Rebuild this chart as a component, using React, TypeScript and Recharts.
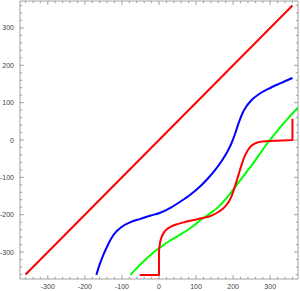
import { LineChart, Line, XAxis, YAxis, ReferenceArea } from 'recharts';

// tick values
const majorTicks = [-300, -200, -100, 0, 100, 200, 300];
const allTicks = Array.from({ length: 37 }, (_, i) => -360 + i * 20);

// series
const diagonal = [
  { x: -360, y: -360 },
  { x: 360, y: 360 },
];

const blueCurve = [
  { x: -169, y: -361 }, { x: -160, y: -333 }, { x: -149, y: -305 }, { x: -135, y: -275 },
  { x: -122, y: -253 }, { x: -100, y: -232 }, { x: -77, y: -220 }, { x: -50, y: -211 },
  { x: -22, y: -202 }, { x: 0, y: -196 }, { x: 32, y: -181 }, { x: 59, y: -164 },
  { x: 86, y: -145 }, { x: 110, y: -125 }, { x: 130, y: -105 }, { x: 150, y: -82 },
  { x: 170, y: -55 }, { x: 185, y: -30 }, { x: 195, y: -10 }, { x: 205, y: 16 },
  { x: 215, y: 46 }, { x: 225, y: 71 }, { x: 235, y: 89 }, { x: 250, y: 107 },
  { x: 270, y: 123 }, { x: 295, y: 137 }, { x: 330, y: 153 }, { x: 360, y: 166 },
];

const greenCurve = [
  { x: -77, y: -361 }, { x: -60, y: -343 }, { x: -45, y: -328 }, { x: -31, y: -315 },
  { x: -15, y: -301 }, { x: 5, y: -286 }, { x: 30, y: -269 }, { x: 59, y: -252 },
  { x: 90, y: -232 }, { x: 118, y: -210 }, { x: 140, y: -195 }, { x: 158, y: -181 },
  { x: 185, y: -152 }, { x: 209, y: -121 }, { x: 238, y: -83 }, { x: 250, y: -68 },
  { x: 270, y: -40 }, { x: 291, y: -10 }, { x: 310, y: 13 }, { x: 328, y: 35 },
  { x: 350, y: 60 }, { x: 375, y: 87 },
];

const redCurve = [
  { x: -52, y: -361 }, { x: 0, y: -361 }, { x: 0, y: -300 }, { x: 2, y: -280 },
  { x: 6, y: -263 }, { x: 13, y: -248 }, { x: 22, y: -238 }, { x: 32, y: -232 },
  { x: 50, y: -225 }, { x: 68, y: -220 }, { x: 90, y: -215 }, { x: 118, y: -209 },
  { x: 140, y: -203 }, { x: 158, y: -194 }, { x: 172, y: -184 }, { x: 185, y: -170 },
  { x: 195, y: -152 }, { x: 203, y: -130 }, { x: 210, y: -108 }, { x: 217, y: -85 },
  { x: 225, y: -60 }, { x: 232, y: -42 }, { x: 240, y: -27 }, { x: 250, y: -15 },
  { x: 262, y: -8 }, { x: 280, y: -4 }, { x: 310, y: -2 }, { x: 360, y: 0 },
  { x: 360, y: 57 },
];

const W = 300;
const H = 291;
const MARGIN = { top: 1, right: 2, bottom: 0, left: 0 };
const Y_AXIS_W = 20;
const X_AXIS_H = 12;
const PLOT_LEFT = MARGIN.left + Y_AXIS_W;
const PLOT_RIGHT = W - MARGIN.right;
const PLOT_TOP = MARGIN.top;
const PLOT_BOTTOM = H - MARGIN.bottom - X_AXIS_H;

const FRAME = '#8c8c8c';
const LABEL = '#444';
const FONT = '"Liberation Sans", Arial, sans-serif';

function XTick({ x, payload }: any) {
  const major = majorTicks.includes(payload.value);
  const len = major ? 4 : 2.2;
  return (
    <g>
      <line x1={x} x2={x} y1={PLOT_BOTTOM} y2={PLOT_BOTTOM - len} stroke={FRAME} strokeWidth={0.8} />
      <line x1={x} x2={x} y1={PLOT_TOP} y2={PLOT_TOP + len} stroke={FRAME} strokeWidth={0.8} />
      {major && (
        <text x={x} y={PLOT_BOTTOM + 9.5} textAnchor="middle" fontSize={7} fontFamily={FONT} fill={LABEL}>
          {payload.value}
        </text>
      )}
    </g>
  );
}

function YTick({ y, payload }: any) {
  const major = majorTicks.includes(payload.value);
  const len = major ? 4 : 2.2;
  return (
    <g>
      <line x1={PLOT_LEFT} x2={PLOT_LEFT + len} y1={y} y2={y} stroke={FRAME} strokeWidth={0.8} />
      <line x1={PLOT_RIGHT} x2={PLOT_RIGHT - len} y1={y} y2={y} stroke={FRAME} strokeWidth={0.8} />
      {major && (
        <text x={PLOT_LEFT - 6} y={y + 2.5} textAnchor="end" fontSize={7} fontFamily={FONT} fill={LABEL}>
          {payload.value}
        </text>
      )}
    </g>
  );
}

export default function App() {
  return (
    <div style={{ position: 'absolute', left: 0, top: 0, background: '#fff' }}>
      <LineChart width={W} height={H} margin={MARGIN}>
        <XAxis
          type="number"
          dataKey="x"
          domain={[-375, 375]}
          allowDataOverflow
          ticks={allTicks}
          interval={0}
          height={X_AXIS_H}
          tickSize={0}
          tickMargin={0}
          tickLine={false}
          axisLine={false}
          tick={<XTick />}
        />
        <YAxis
          type="number"
          dataKey="y"
          domain={[-372, 372]}
          allowDataOverflow
          ticks={allTicks}
          interval={0}
          width={Y_AXIS_W}
          tickSize={0}
          tickMargin={0}
          tickLine={false}
          axisLine={false}
          tick={<YTick />}
        />
        <ReferenceArea x1={-375} x2={375} y1={-372} y2={372} fill="none" stroke={FRAME} strokeWidth={0.8} />
        <Line data={diagonal} dataKey="y" type="linear" stroke="#ff0000" strokeWidth={2} dot={false} isAnimationActive={false} />
        <Line data={blueCurve} dataKey="y" type="monotone" stroke="#0000ff" strokeWidth={2} dot={false} isAnimationActive={false} />
        <Line data={greenCurve} dataKey="y" type="monotone" stroke="#00ff00" strokeWidth={2} dot={false} isAnimationActive={false} />
        <Line data={redCurve} dataKey="y" type="monotone" stroke="#ff0000" strokeWidth={2} dot={false} isAnimationActive={false} />
      </LineChart>
    </div>
  );
}
